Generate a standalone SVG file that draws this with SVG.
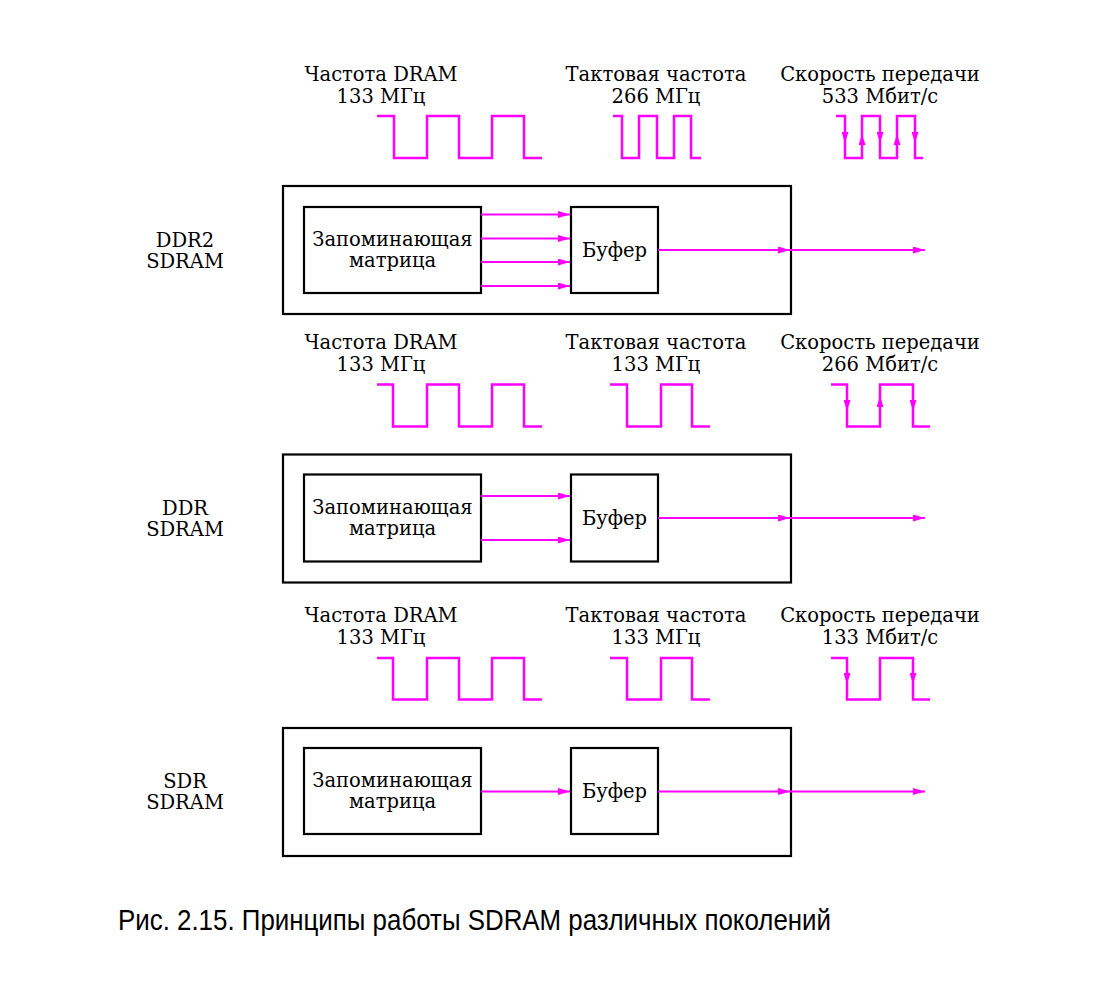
<svg xmlns="http://www.w3.org/2000/svg" width="1102" height="989" viewBox="0 0 1102 989">
<defs>
<marker id="ah" markerUnits="userSpaceOnUse" markerWidth="12" markerHeight="8" refX="12" refY="3.5" orient="auto">
<path d="M0,0 L12,3.5 L0,7 z" fill="#ff00ff"/>
</marker>
<marker id="wa" markerUnits="userSpaceOnUse" markerWidth="11" markerHeight="7" refX="11" refY="3.5" orient="auto">
<path d="M0,0 L11,3.5 L0,7 z" fill="#ff00ff"/>
</marker>
</defs>
<style>
.bx{fill:none;stroke:#000;stroke-width:2.2}
.t{font-family:"DejaVu Serif","Liberation Serif",serif;font-size:19.5px;fill:#000;text-anchor:middle}
.w{fill:none;stroke:#ff00ff;stroke-width:2.5}
.c{fill:none;stroke:#ff00ff;stroke-width:2.2;marker-end:url(#ah)}
.wa{fill:none;stroke:#ff00ff;stroke-width:2;marker-end:url(#wa)}
.cap{font-family:"Liberation Sans","DejaVu Sans",sans-serif;font-size:29px;fill:#000}
</style>
<rect width="1102" height="989" fill="#fff"/>

<!-- DDR2 section -->
<g id="ddr2-labels">
<text class="t" x="381" y="81">Частота DRAM</text>
<text class="t" x="381" y="102.5">133 МГц</text>
<text class="t" x="656" y="81">Тактовая частота</text>
<text class="t" x="656" y="102.5">266 МГц</text>
<text class="t" x="880" y="81">Скорость передачи</text>
<text class="t" x="880" y="102.5">533 Мбит/с</text>
</g>
<g id="ddr2-waves">
<path class="w" d="M377,116 H394 V158 H427 V116 H459 V158 H492 V116 H524 V158 H542"/>
<path class="w" d="M613,116 H622 V158 H639 V116 H657 V158 H674 V116 H691 V158 H701"/>
<path class="w" d="M836,116 H845 V158 H862 V116 H880 V158 H897 V116 H915 V158 H923"/>
<line class="wa" x1="845" y1="116" x2="845" y2="143"/>
<line class="wa" x1="862" y1="158" x2="862" y2="134"/>
<line class="wa" x1="880" y1="116" x2="880" y2="143"/>
<line class="wa" x1="897" y1="158" x2="897" y2="134"/>
<line class="wa" x1="915" y1="116" x2="915" y2="143"/>
</g>
<g id="ddr2-name"><text class="t" x="185" y="246.5">DDR2</text><text class="t" x="185" y="268">SDRAM</text></g>
<g id="ddr2-chip"><rect class="bx" x="283" y="186" width="508" height="128"/></g>
<g id="ddr2-matrix"><rect class="bx" x="304" y="207" width="177" height="86"/>
<text class="t" x="392.5" y="245.5">Запоминающая</text><text class="t" x="392.5" y="267">матрица</text></g>
<g id="ddr2-buffer"><rect class="bx" x="571" y="207" width="87" height="86"/><text class="t" x="614.5" y="257">Буфер</text></g>

<!-- DDR section -->
<g id="ddr-labels">
<text class="t" x="381" y="349">Частота DRAM</text>
<text class="t" x="381" y="370.5">133 МГц</text>
<text class="t" x="656" y="349">Тактовая частота</text>
<text class="t" x="656" y="370.5">133 МГц</text>
<text class="t" x="880" y="349">Скорость передачи</text>
<text class="t" x="880" y="370.5">266 Мбит/с</text>
</g>
<g id="ddr-waves">
<path class="w" d="M377,384.5 H393 V426.5 H427 V384.5 H459 V426.5 H492 V384.5 H524 V426.5 H542"/>
<path class="w" d="M610,384.5 H627 V426.5 H661 V384.5 H692 V426.5 H710"/>
<path class="w" d="M831,384.5 H847 V426.5 H880 V384.5 H913 V426.5 H930"/>
<line class="wa" x1="847" y1="384.5" x2="847" y2="411"/>
<line class="wa" x1="880" y1="426.5" x2="880" y2="396"/>
<line class="wa" x1="913" y1="384.5" x2="913" y2="411"/>
</g>
<g id="ddr-name"><text class="t" x="185" y="514.5">DDR</text><text class="t" x="185" y="536">SDRAM</text></g>
<g id="ddr-chip"><rect class="bx" x="283" y="454.5" width="508" height="128"/></g>
<g id="ddr-matrix"><rect class="bx" x="304" y="474.5" width="177" height="87"/>
<text class="t" x="392.5" y="513.5">Запоминающая</text><text class="t" x="392.5" y="535">матрица</text></g>
<g id="ddr-buffer"><rect class="bx" x="571" y="474.5" width="87" height="87"/><text class="t" x="614.5" y="525">Буфер</text></g>

<!-- SDR section -->
<g id="sdr-labels">
<text class="t" x="381" y="622">Частота DRAM</text>
<text class="t" x="381" y="643.5">133 МГц</text>
<text class="t" x="656" y="622">Тактовая частота</text>
<text class="t" x="656" y="643.5">133 МГц</text>
<text class="t" x="880" y="622">Скорость передачи</text>
<text class="t" x="880" y="643.5">133 Мбит/с</text>
</g>
<g id="sdr-waves">
<path class="w" d="M377,658 H393 V699.5 H427 V658 H459 V699.5 H492 V658 H524 V699.5 H542"/>
<path class="w" d="M610,658 H627 V699.5 H661 V658 H692 V699.5 H710"/>
<path class="w" d="M831,658 H847 V699.5 H880 V658 H913 V699.5 H930"/>
<line class="wa" x1="847" y1="658" x2="847" y2="684"/>
<line class="wa" x1="913" y1="658" x2="913" y2="684"/>
</g>
<g id="sdr-name"><text class="t" x="185" y="787.5">SDR</text><text class="t" x="185" y="809">SDRAM</text></g>
<g id="sdr-chip"><rect class="bx" x="283" y="728" width="508" height="128"/></g>
<g id="sdr-matrix"><rect class="bx" x="304" y="748" width="177" height="86"/>
<text class="t" x="392.5" y="786.5">Запоминающая</text><text class="t" x="392.5" y="808">матрица</text></g>
<g id="sdr-buffer"><rect class="bx" x="571" y="748" width="87" height="86"/><text class="t" x="614.5" y="798">Буфер</text></g>

<g id="connectors">
<line class="c" x1="481" y1="214.5" x2="570" y2="214.5"/>
<line class="c" x1="481" y1="238.5" x2="570" y2="238.5"/>
<line class="c" x1="481" y1="262" x2="570" y2="262"/>
<line class="c" x1="481" y1="286" x2="570" y2="286"/>
<line class="c" x1="658" y1="250" x2="790" y2="250"/>
<line class="c" x1="790" y1="250" x2="925" y2="250"/>

<line class="c" x1="481" y1="496" x2="570" y2="496"/>
<line class="c" x1="481" y1="540" x2="570" y2="540"/>
<line class="c" x1="658" y1="518" x2="790" y2="518"/>
<line class="c" x1="790" y1="518" x2="925" y2="518"/>

<line class="c" x1="481" y1="791.5" x2="570" y2="791.5"/>
<line class="c" x1="658" y1="791.5" x2="790" y2="791.5"/>
<line class="c" x1="790" y1="791.5" x2="925" y2="791.5"/>
</g>

<text class="cap" x="118" y="930" textLength="713" lengthAdjust="spacingAndGlyphs">Рис. 2.15. Принципы работы SDRAM различных поколений</text>
</svg>
